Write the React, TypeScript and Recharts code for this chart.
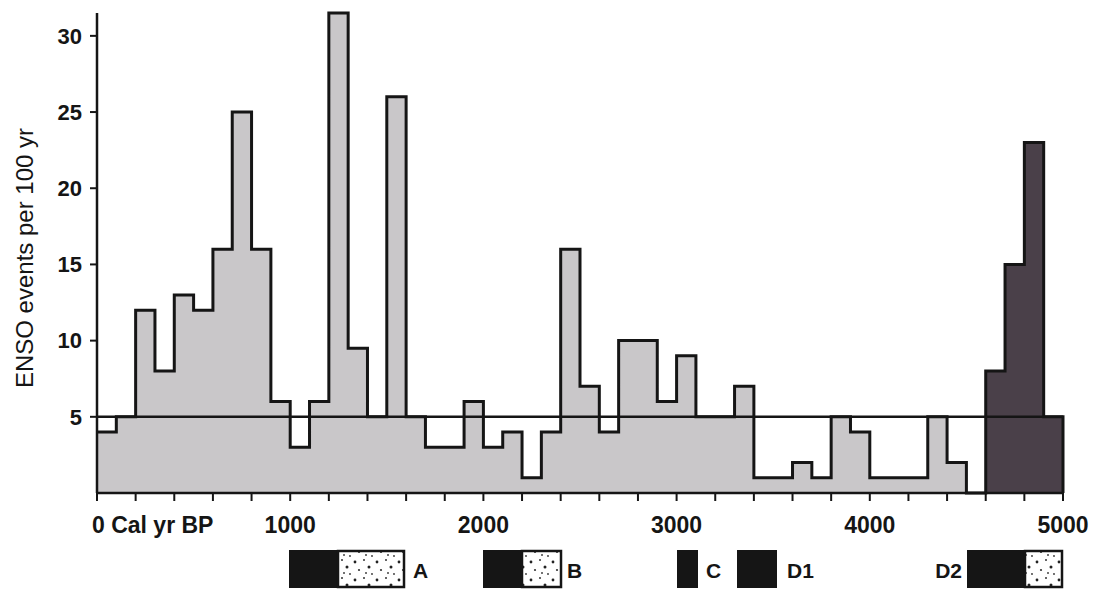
import React from "react";
import { ComposedChart, Area, Line, XAxis, YAxis, ReferenceLine } from "recharts";

// bin edges, cal yr BP (100-yr bins)
const years = [
  0, 100, 200, 300, 400, 500, 600, 700, 800, 900,
  1000, 1100, 1200, 1300, 1400, 1500, 1600, 1700, 1800, 1900,
  2000, 2100, 2200, 2300, 2400, 2500, 2600, 2700, 2800, 2900,
  3000, 3100, 3200, 3300, 3400, 3500, 3600, 3700, 3800, 3900,
  4000, 4100, 4200, 4300, 4400, 4500, 4600, 4700, 4800, 4900,
  5000,
];

// ENSO events per 100 yr in each bin
const events = [
  4, 5, 12, 8, 13, 12, 16, 25, 16, 6,
  3, 6, 31.5, 9.5, 5, 26, 5, 3, 3, 6,
  3, 4, 1, 4, 16, 7, 4, 10, 10, 6,
  9, 5, 5, 7, 1, 1, 2, 1, 5, 4,
  1, 1, 1, 5, 2, 0, 8, 15, 23, 5,
];

// bins from this year on are drawn dark
const darkFrom = 4600;

const xTicks = [
  0, 200, 400, 600, 800, 1000, 1200, 1400, 1600, 1800, 2000, 2200, 2400,
  2600, 2800, 3000, 3200, 3400, 3600, 3800, 4000, 4200, 4400, 4600, 4800, 5000,
];
const xLabelValues = [0, 1000, 2000, 3000, 4000, 5000];
const xLabelTexts = ["0 Cal yr BP", "1000", "2000", "3000", "4000", "5000"];
const yTicks = [5, 10, 15, 20, 25, 30];

const LIGHT = "#c9c7c9";
const DARK = "#4a4049";
const INK = "#151515";
const FONT = '"Liberation Sans", Arial, Helvetica, sans-serif';

const data = years.map((year, i) => {
  const value = i < events.length ? events[i] : 0;
  return {
    year,
    outline: value,
    light: year < darkFrom ? value : null,
    dark: year >= darkFrom ? value : null,
  };
});

const XTick = (props: any) => {
  const { x, y, payload } = props;
  const idx = xLabelValues.indexOf(payload.value);
  if (idx < 0) return <g />;
  const first = payload.value === 0;
  return (
    <text
      x={first ? x - 5 : x}
      y={y}
      dy={30}
      textAnchor={first ? "start" : "middle"}
      fontFamily={FONT}
      fontWeight="bold"
      fontSize={23}
      fill={INK}
    >
      {xLabelTexts[idx]}
    </text>
  );
};

// legend swatches under the axis
const legendItems = [
  { label: "A", labelX: 413, labelAnchor: "start", solid: [289, 338], dots: [338, 405] },
  { label: "B", labelX: 567, labelAnchor: "start", solid: [483, 522], dots: [522, 562] },
  { label: "C", labelX: 706, labelAnchor: "start", solid: [677, 698], dots: null },
  { label: "D1", labelX: 787, labelAnchor: "start", solid: [737, 777], dots: null },
  { label: "D2", labelX: 962, labelAnchor: "end", solid: [967, 1025], dots: [1025, 1063] },
];

const LegendStrip = () => (
  <svg
    width={1102}
    height={52}
    style={{ position: "absolute", left: 0, top: 540 }}
  >
    <defs>
      <pattern id="stipple" width="22" height="18" patternUnits="userSpaceOnUse">
        <rect width="22" height="18" fill="#fff" />
        <circle cx="3" cy="4" r="1.4" fill="#222" />
        <circle cx="12" cy="2" r="1" fill="#333" />
        <circle cx="17" cy="9" r="1.5" fill="#222" />
        <circle cx="7" cy="12" r="1.1" fill="#333" />
        <circle cx="14" cy="15" r="1" fill="#444" />
        <circle cx="20" cy="16" r="0.9" fill="#333" />
      </pattern>
    </defs>
    {legendItems.map((it) => (
      <g key={it.label}>
        <rect
          x={it.solid[0]}
          y={10}
          width={it.solid[1] - it.solid[0]}
          height={38}
          fill={INK}
        />
        {it.dots && (
          <rect
            x={it.dots[0]}
            y={11}
            width={it.dots[1] - it.dots[0] - 1}
            height={36}
            fill="url(#stipple)"
            stroke={INK}
            strokeWidth={2.5}
          />
        )}
        <text
          x={it.labelX}
          y={38}
          textAnchor={it.labelAnchor as any}
          fontFamily={FONT}
          fontWeight="bold"
          fontSize={21}
          fill={INK}
        >
          {it.label}
        </text>
      </g>
    ))}
  </svg>
);

export default function App() {
  return (
    <div
      style={{
        position: "absolute",
        left: 0,
        top: 0,
        width: 1102,
        height: 592,
        background: "#fff",
      }}
    >
      <ComposedChart
        width={1102}
        height={592}
        data={data}
        margin={{ top: 13, right: 39, bottom: 49, left: 0 }}
      >
        <XAxis
          dataKey="year"
          type="number"
          domain={[0, 5000]}
          ticks={xTicks}
          interval={0}
          height={50}
          tickSize={8}
          tick={<XTick />}
          axisLine={{ stroke: INK, strokeWidth: 2.5 }}
          tickLine={{ stroke: INK, strokeWidth: 2 }}
        />
        <YAxis
          type="number"
          domain={[0, 31.5]}
          ticks={yTicks}
          interval={0}
          width={97}
          tickSize={7}
          tickMargin={8}
          axisLine={{ stroke: INK, strokeWidth: 2.5 }}
          tickLine={{ stroke: INK, strokeWidth: 2 }}
          tick={{ fill: INK, fontSize: 22, fontWeight: "bold", fontFamily: FONT }}
        />
        <Area
          type="stepAfter"
          dataKey="light"
          fill={LIGHT}
          fillOpacity={1}
          stroke="none"
          isAnimationActive={false}
        />
        <Area
          type="stepAfter"
          dataKey="dark"
          fill={DARK}
          fillOpacity={1}
          stroke="none"
          isAnimationActive={false}
        />
        <Line
          type="stepAfter"
          dataKey="outline"
          stroke={INK}
          strokeWidth={3}
          dot={false}
          activeDot={false}
          isAnimationActive={false}
        />
        <ReferenceLine y={5} stroke={INK} strokeWidth={2.5} />
      </ComposedChart>
      <svg
        width={60}
        height={592}
        style={{ position: "absolute", left: 0, top: 0 }}
      >
        <text
          x={24}
          y={258}
          transform="rotate(-90 24 258)"
          textAnchor="middle"
          dominantBaseline="central"
          fontFamily={FONT}
          fontSize={24}
          fill={INK}
        >
          ENSO events per 100 yr
        </text>
      </svg>
      <LegendStrip />
    </div>
  );
}
